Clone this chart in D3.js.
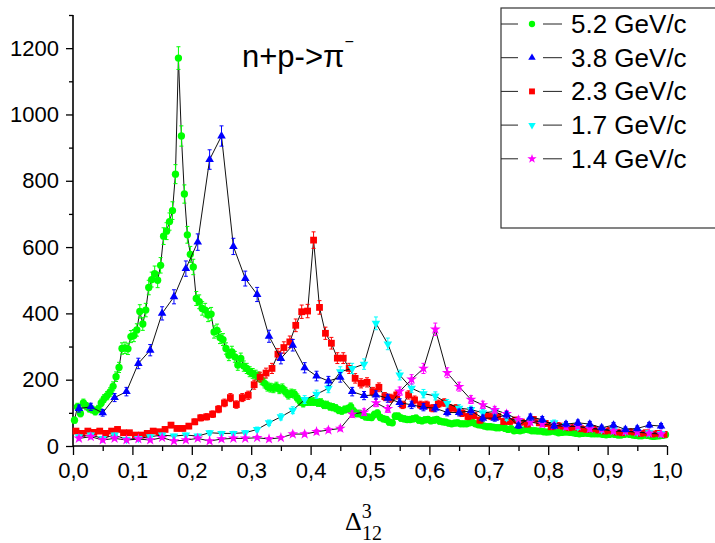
<!DOCTYPE html>
<html>
<head>
<meta charset="utf-8">
<script src="https://cdn.jsdelivr.net/npm/d3@7/dist/d3.min.js"></script>
<style>
  body { margin: 0; background: #fff; }
  svg { display: block; font-family: Arial, "Liberation Sans", sans-serif; }
</style>
</head>
<body>
<svg id="chart" width="715" height="543"></svg>
<script>
// counts per bin
var seriesNames = ['5.2 GeV/c', '3.8 GeV/c', '2.3 GeV/c', '1.7 GeV/c', '1.4 GeV/c'];

// 5.2 GeV/c, bins of 0.005
var green52 = [
  78, 118, 98, 130, 120, 113, 110, 104, 112, 130,
  143, 152, 163, 180, 209, 237, 294, 296, 293, 330,
  333, 350, 406, 368, 410, 478, 502, 520, 500, 545,
  633, 648, 677, 710, 820, 1170, 935, 760, 637, 578,
  540, 445, 435, 415, 410, 395, 398, 344, 349, 327,
  321, 294, 274, 284, 269, 244, 264, 241, 234, 224,
  219, 214, 209, 199, 189, 179, 176, 174, 179, 171,
  174, 164, 154, 159, 157, 145, 134, 129, 134, 134,
  134, 134, 131, 131, 124, 124, 119, 117, 114, 108,
  106, 110, 112, 119, 105, 98, 98, 93, 88, 87,
  86, 95, 99, 86, 82, 80, 72, 70, 90, 90,
  84, 82, 80, 80, 82, 84, 78, 76, 79, 80,
  76, 78, 80, 75, 73, 72, 69, 67, 69, 70,
  67, 67, 67, 70, 71, 67, 64, 63, 60, 58,
  58, 57, 55, 55, 56, 53, 50, 52, 46, 47,
  46, 48, 50, 49, 46, 46, 45, 45, 43, 42,
  43, 45, 43, 40, 41, 42, 42, 41, 40, 38,
  37, 38, 39, 38, 37, 37, 37, 37, 35, 34,
  35, 37, 35, 33, 33, 35, 37, 35, 33, 32,
  31, 31, 33, 32, 30, 29, 30, 31, 32, 34
];

// 3.8 GeV/c, bins of 0.02
var blue38 = [
  113, 118, 100, 146, 164, 249, 289, 400, 450, 535,
  615, 864, 935, 602, 505, 457, 331, 264, 304, 236,
  211, 196, 207, 164, 152, 154, 144, 131, 124, 117,
  114, 101, 101, 106, 84, 84, 94, 61, 87, 80,
  60, 66, 70, 66, 55, 63, 50, 53, 63, 60
];

// 2.3 GeV/c, bins of 0.01
var red23 = [
  45, 38, 45, 41, 45, 38, 45, 50, 40, 40,
  33, 33, 38, 45, 43, 50, 63, 53, 53, 60,
  73, 85, 88, 96, 111, 130, 146, 125, 146, 153,
  185, 208, 220, 234, 277, 297, 314, 364, 405, 407,
  621, 418, 340, 310, 265, 265, 234, 204, 189, 192,
  164, 177, 149, 144, 154, 124, 154, 139, 124, 124,
  114, 127, 131, 114, 114, 99, 89, 92, 78, 92,
  89, 89, 74, 74, 78, 72, 66, 80, 70, 68,
  58, 62, 60, 55, 57, 52, 50, 52, 48, 45,
  47, 42, 40, 44, 42, 38, 40, 36, 38, 35
];

// 1.7 GeV/c, bins of 0.02
var cyan17 = [
  28, 33, 23, 33, 20, 23, 28, 33, 30, 33,
  30, 40, 38, 38, 40, 50, 70, 88, 108, 140,
  156, 174, 224, 234, 247, 370, 308, 214, 174, 158,
  151, 129, 114, 110, 100, 104, 86, 75, 78, 72,
  70, 62, 58, 55, 50, 48, 45, 42, 40, 38
];

// 1.4 GeV/c, bins of 0.02
var magenta14 = [
  23, 28, 18, 23, 18, 21, 18, 25, 15, 18,
  23, 15, 21, 23, 23, 25, 21, 25, 36, 36,
  43, 48, 53, 96, 102, 130, 112, 165, 201, 234,
  352, 221, 179, 140, 124, 109, 97, 79, 72, 66,
  62, 58, 60, 52, 50, 45, 44, 42, 38, 36
];

var binStart = [0.0025, 0.01, 0.005, 0.01, 0.01];
var binStep = [0.005, 0.02, 0.01, 0.02, 0.02];

var xTickValues = d3.range(0, 11).map(function (d) { return d / 10; });
var xTickLabels = ['0,0', '0,1', '0,2', '0,3', '0,4', '0,5', '0,6', '0,7', '0,8', '0,9', '1,0'];
var yTickValues = [0, 200, 400, 600, 800, 1000, 1200];

(function () {
  'use strict';
  var svg = d3.select('#chart');
  var x = d3.scaleLinear().domain([0, 1]).range([73, 667]);
  var y = d3.scaleLinear().domain([0, 1300]).range([446, 15]);

  var colors = ['#00ff00', '#0000ff', '#ff0000', '#00ffff', '#ff00ff'];
  var shapes = [
    { type: d3.symbolCircle, size: 42, rot: 0 },
    { type: d3.symbolTriangle, size: 32, rot: 0 },
    { type: d3.symbolSquare, size: 46, rot: 0 },
    { type: d3.symbolTriangle, size: 32, rot: 180 },
    { type: d3.symbolStar, size: 36, rot: 0 }
  ];
  var allValues = [green52, blue38, red23, cyan17, magenta14];

  var series = allValues.map(function (vals, s) {
    return vals.map(function (v, i) {
      // poisson error on counts
      return { x: binStart[s] + binStep[s] * i, v: v, err: Math.sqrt(v) };
    });
  });

  // axes
  var xAxis = d3.axisBottom(x).tickValues(xTickValues)
    .tickFormat(function (d, i) { return xTickLabels[i]; })
    .tickSize(9).tickPadding(7);
  var xMinor = d3.axisBottom(x).tickValues(d3.range(0.05, 1, 0.1)).tickSize(5).tickFormat('');
  var yAxis = d3.axisLeft(y).tickValues(yTickValues).tickFormat(d3.format('d'))
    .tickSize(7).tickPadding(7);
  var yMinor = d3.axisLeft(y).tickValues(d3.range(100, 1400, 200)).tickSize(4).tickFormat('');

  var gx = svg.append('g').attr('transform', 'translate(0,446)').call(xAxis);
  svg.append('g').attr('transform', 'translate(0,446)').call(xMinor).select('.domain').remove();
  var gy = svg.append('g').attr('transform', 'translate(73,0)').call(yAxis);
  svg.append('g').attr('transform', 'translate(73,0)').call(yMinor).select('.domain').remove();

  [gx, gy].forEach(function (g) {
    g.select('.domain').attr('stroke', '#000').attr('stroke-width', 1.6);
    g.selectAll('.tick text').attr('font-size', 22).attr('fill', '#000')
      .attr('font-family', 'Arial, "Liberation Sans", sans-serif');
  });
  svg.selectAll('.tick line').attr('stroke', '#000').attr('stroke-width', 1.3);
  gx.selectAll('.domain').attr('d', 'M73,0H667');
  gy.selectAll('.domain').attr('d', 'M0,446V15');

  // draw order: green at the bottom, blue on top
  var order = [0, 2, 3, 4, 1];
  var line = d3.line().x(function (d) { return x(d.x); }).y(function (d) { return y(d.v); });

  order.forEach(function (s) {
    var g = svg.append('g');
    g.append('path').datum(series[s]).attr('d', line)
      .attr('fill', 'none').attr('stroke', '#111').attr('stroke-width', 1);
    var eb = g.selectAll('g.eb').data(series[s]).enter().append('g')
      .attr('stroke', colors[s]).attr('stroke-width', 1);
    eb.append('line')
      .attr('x1', function (d) { return x(d.x); }).attr('x2', function (d) { return x(d.x); })
      .attr('y1', function (d) { return y(d.v - d.err); }).attr('y2', function (d) { return y(d.v + d.err); });
    eb.append('line')
      .attr('x1', function (d) { return x(d.x) - 2; }).attr('x2', function (d) { return x(d.x) + 2; })
      .attr('y1', function (d) { return y(d.v + d.err); }).attr('y2', function (d) { return y(d.v + d.err); });
    eb.append('line')
      .attr('x1', function (d) { return x(d.x) - 2; }).attr('x2', function (d) { return x(d.x) + 2; })
      .attr('y1', function (d) { return y(d.v - d.err); }).attr('y2', function (d) { return y(d.v - d.err); });
    var sym = d3.symbol().type(shapes[s].type).size(shapes[s].size);
    g.selectAll('path.pt').data(series[s]).enter().append('path')
      .attr('class', 'pt')
      .attr('d', sym)
      .attr('fill', colors[s])
      .attr('transform', function (d) {
        return 'translate(' + x(d.x) + ',' + y(d.v) + ') rotate(' + shapes[s].rot + ')';
      });
  });

  // title
  var title = svg.append('text').attr('x', 242).attr('y', 67)
    .attr('font-size', 31).attr('fill', '#000');
  title.append('tspan').text('n+p->');
  title.append('tspan').text('\u03c0');
  title.append('tspan').attr('font-size', 16).attr('dy', -20).text('\u2212');

  // x axis label
  var xl = svg.append('text').attr('x', 345).attr('y', 530)
    .attr('font-family', '"Liberation Serif", "Times New Roman", serif')
    .attr('font-size', 26).attr('fill', '#000');
  xl.append('tspan').text('\u0394');
  xl.append('tspan').attr('font-size', 20).attr('dy', -12).text('3');
  xl.append('tspan').attr('font-size', 20).attr('x', 362).attr('dy', 22).text('12');

  // legend
  var legend = svg.append('g');
  legend.append('rect').attr('x', 501).attr('y', 8).attr('width', 230).attr('height', 220)
    .attr('fill', '#fff').attr('stroke', '#333').attr('stroke-width', 1.2);
  seriesNames.forEach(function (name, s) {
    var cy = 24 + s * 33.7;
    var row = legend.append('g');
    row.append('line').attr('x1', 501).attr('x2', 518).attr('y1', cy).attr('y2', cy)
      .attr('stroke', '#222').attr('stroke-width', 1);
    row.append('line').attr('x1', 543).attr('x2', 562).attr('y1', cy).attr('y2', cy)
      .attr('stroke', '#222').attr('stroke-width', 1);
    row.append('path').attr('d', d3.symbol().type(shapes[s].type).size(shapes[s].size * 0.75))
      .attr('fill', colors[s])
      .attr('transform', 'translate(532,' + cy + ') rotate(' + shapes[s].rot + ')');
    row.append('text').attr('x', 571).attr('y', cy + 9)
      .attr('font-size', 26).attr('fill', '#000').text(name);
  });
})();
</script>
</body>
</html>
